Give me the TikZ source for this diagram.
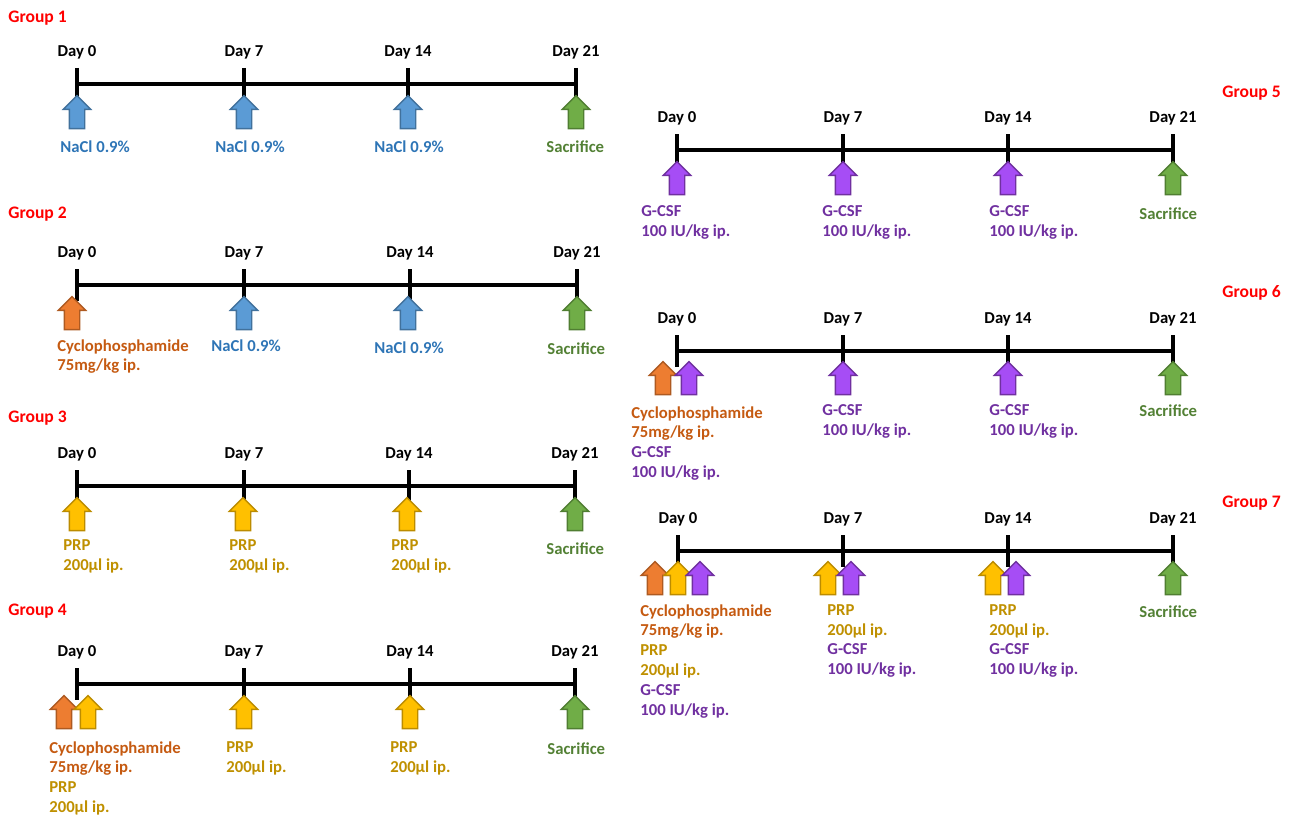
\documentclass[tikz,border=0pt]{standalone}
\usepackage{fontspec}
\setmainfont{Carlito}
\usepackage{tikz}
\usetikzlibrary{shapes.arrows}
\definecolor{naclfill}{HTML}{5B9BD5}
\definecolor{nacldraw}{HTML}{41719C}
\definecolor{nacltxt}{HTML}{2E75B6}
\definecolor{cycfill}{HTML}{ED7D31}
\definecolor{cycdraw}{HTML}{AE5A21}
\definecolor{cyctxt}{HTML}{C55A11}
\definecolor{prpfill}{HTML}{FFC000}
\definecolor{prpdraw}{HTML}{BC8C00}
\definecolor{prptxt}{HTML}{BF9000}
\definecolor{gcsffill}{HTML}{A64DF5}
\definecolor{gcsfdraw}{HTML}{7030A0}
\definecolor{gcsftxt}{HTML}{7030A0}
\definecolor{sacfill}{HTML}{70AD47}
\definecolor{sacdraw}{HTML}{507E32}
\definecolor{sactxt}{HTML}{538135}
\tikzstyle{grp} = [text=red, font={\bfseries\fontsize{10}{12}\selectfont}, anchor=west, inner sep=0]
\tikzstyle{day} = [font={\bfseries\fontsize{9.5}{11.3}\selectfont}, inner sep=0]
\tikzstyle{lbl} = [font={\bfseries\fontsize{9.5}{11.3}\selectfont}, anchor=north west, align=left, inner sep=0]
\tikzstyle{axis} = [line width=2.3pt]
\tikzstyle{arr} = [single arrow, shape border rotate=90, minimum height=0.66cm, inner sep=0.14cm, single arrow head extend=0.12cm, line width=0.8pt]
\tikzstyle{nacl} = [arr, fill=naclfill, draw=nacldraw]
\tikzstyle{cyc} = [arr, fill=cycfill, draw=cycdraw]
\tikzstyle{prp} = [arr, fill=prpfill, draw=prpdraw]
\tikzstyle{gcsf} = [arr, fill=gcsffill, draw=gcsfdraw]
\tikzstyle{sac} = [arr, fill=sacfill, draw=sacdraw]
\newcommand{\timeline}[6]{%
  \coordinate (#1-0) at (#3,#2);
  \coordinate (#1-7) at (#4,#2);
  \coordinate (#1-14) at (#5,#2);
  \coordinate (#1-21) at (#6,#2);
  \draw[axis] (#1-0) -- (#1-21);
  \foreach \d in {0,7,14,21} {
    \draw[axis] ([yshift=0.32cm]#1-\d) -- ([yshift=-0.32cm]#1-\d);
    \node[day] (#1-day\d) at ([yshift=0.64cm]#1-\d) {Day \d};
  }
}
\newcommand{\cyc}{\textcolor{cyctxt}{Cyclophosphamide}\\\textcolor{cyctxt}{75mg/kg ip.}}
\newcommand{\prp}{\textcolor{prptxt}{PRP}\\\textcolor{prptxt}{200µl ip.}}
\newcommand{\gcsf}{\textcolor{gcsftxt}{G-CSF}\\\textcolor{gcsftxt}{100 IU/kg ip.}}

\begin{document}
\begin{tikzpicture}[x=0.02cm, y=-0.02cm]
    \useasboundingbox (0,0) rectangle (1293,817);
    % group 1
    \node[grp] (g1) at (8,18) {Group 1};
    \timeline{g1}{84}{77}{244}{408}{576}
    \node[nacl] (g1a0) at (77,116) {};
    \node[nacl] (g1a7) at (244,116) {};
    \node[nacl] (g1a14) at (408,116) {};
    \node[sac] (g1a21) at (576,116) {};
    \node[lbl, text=nacltxt] (g1t0) at (60,140) {NaCl 0.9\%};
    \node[lbl, text=nacltxt] (g1t7) at (215,140) {NaCl 0.9\%};
    \node[lbl, text=nacltxt] (g1t14) at (374,140) {NaCl 0.9\%};
    \node[lbl, text=sactxt] (g1t21) at (546,140) {Sacrifice};
    % group 2
    \node[grp] (g2) at (8,214) {Group 2};
    \timeline{g2}{285}{77}{244}{410}{577}
    \node[cyc] (g2a0) at (72,317) {};
    \node[nacl] (g2a7) at (244,317) {};
    \node[nacl] (g2a14) at (408,317) {};
    \node[sac] (g2a21) at (577,317) {};
    \node[lbl] (g2t0) at (57,339) {\cyc};
    \node[lbl, text=nacltxt] (g2t7) at (211,339) {NaCl 0.9\%};
    \node[lbl, text=nacltxt] (g2t14) at (374,341) {NaCl 0.9\%};
    \node[lbl, text=sactxt] (g2t21) at (547,342) {Sacrifice};
    % group 3
    \node[grp] (g3) at (8,418) {Group 3};
    \timeline{g3}{486}{77}{244}{409}{575}
    \node[prp] (g3a0) at (77,518) {};
    \node[prp] (g3a7) at (243,518) {};
    \node[prp] (g3a14) at (407,518) {};
    \node[sac] (g3a21) at (575,518) {};
    \node[lbl] (g3t0) at (63,539) {\prp};
    \node[lbl] (g3t7) at (229,539) {\prp};
    \node[lbl] (g3t14) at (391,539) {\prp};
    \node[lbl, text=sactxt] (g3t21) at (546,542) {Sacrifice};
    % group 4
    \node[grp] (g4) at (8,611) {Group 4};
    \timeline{g4}{684}{77}{244}{410}{575}
    \node[cyc] (g4a0) at (64,716) {};
    \node[prp] (g4b0) at (88,716) {};
    \node[prp] (g4a7) at (244,716) {};
    \node[prp] (g4a14) at (410,716) {};
    \node[sac] (g4a21) at (575,716) {};
    \node[lbl] (g4t0) at (49,741) {\cyc\\\prp};
    \node[lbl] (g4t7) at (226,741) {\prp};
    \node[lbl] (g4t14) at (390,741) {\prp};
    \node[lbl, text=sactxt] (g4t21) at (547,742) {Sacrifice};
    % group 5
    \node[grp] (g5) at (1222,93) {Group 5};
    \timeline{g5}{150}{677}{843}{1008}{1173}
    \node[gcsf] (g5a0) at (677,182) {};
    \node[gcsf] (g5a7) at (843,182) {};
    \node[gcsf] (g5a14) at (1008,182) {};
    \node[sac] (g5a21) at (1173,182) {};
    \node[lbl] (g5t0) at (641,205) {\gcsf};
    \node[lbl] (g5t7) at (822,205) {\gcsf};
    \node[lbl] (g5t14) at (989,205) {\gcsf};
    \node[lbl, text=sactxt] (g5t21) at (1139,207) {Sacrifice};
    % group 6
    \node[grp] (g6) at (1222,293) {Group 6};
    \timeline{g6}{351}{677}{843}{1008}{1173}
    \node[cyc] (g6a0) at (663,382) {};
    \node[gcsf] (g6b0) at (689,382) {};
    \node[gcsf] (g6a7) at (843,382) {};
    \node[gcsf] (g6a14) at (1008,382) {};
    \node[sac] (g6a21) at (1173,382) {};
    \node[lbl] (g6t0) at (631,406) {\cyc\\\gcsf};
    \node[lbl] (g6t7) at (822,404) {\gcsf};
    \node[lbl] (g6t14) at (989,404) {\gcsf};
    \node[lbl, text=sactxt] (g6t21) at (1139,404) {Sacrifice};
    % group 7
    \node[grp] (g7) at (1222,503) {Group 7};
    \timeline{g7}{551}{678}{843}{1008}{1173}
    \node[cyc] (g7a0) at (655,582) {};
    \node[prp] (g7b0) at (678,582) {};
    \node[gcsf] (g7c0) at (700,582) {};
    \node[prp] (g7a7) at (828,582) {};
    \node[gcsf] (g7b7) at (851,582) {};
    \node[prp] (g7a14) at (993,582) {};
    \node[gcsf] (g7b14) at (1016,582) {};
    \node[sac] (g7a21) at (1173,582) {};
    \node[lbl] (g7t0) at (640,604) {\cyc\\\prp\\\gcsf};
    \node[lbl] (g7t7) at (827,604) {\prp\\\gcsf};
    \node[lbl] (g7t14) at (989,604) {\prp\\\gcsf};
    \node[lbl, text=sactxt] (g7t21) at (1139,605) {Sacrifice};
\end{tikzpicture}
\end{document}
